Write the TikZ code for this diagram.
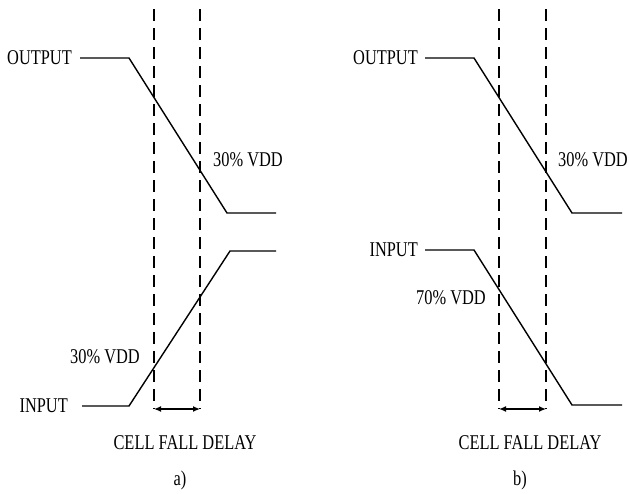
\documentclass[tikz,border=0pt]{standalone}
\usepackage{fontspec}
\setmainfont{Liberation Serif}[FakeStretch=0.78]
\usetikzlibrary{arrows.meta}
\begin{document}
\begin{tikzpicture}[x=1pt,y=-1pt,
  lbl/.style={inner sep=0pt,font=\fontsize{21}{25}\selectfont},
  sig/.style={line width=1.4pt},
  guide/.style={line width=1.1pt,dash pattern=on 12pt off 7pt},
  dim/.style={line width=1.3pt,{Latex[length=7pt,width=6pt]}-{Latex[length=7pt,width=6pt]}}]
\useasboundingbox (0,0) rectangle (629,493);
% ---------- panel a ----------
\coordinate (a1t) at (154,9);   \coordinate (a1b) at (154,409);
\coordinate (a2t) at (200,9);   \coordinate (a2b) at (200,409);
\draw[guide] (a1t) -- (a1b);
\draw[guide] (a2t) -- (a2b);
\node[lbl,anchor=east] (aout) at (72,58) {OUTPUT};
\coordinate (ao1) at (80,58); \coordinate (ao2) at (129,58);
\coordinate (ao3) at (227,213); \coordinate (ao4) at (276,213);
\draw[sig] (ao1) -- (ao2) -- (ao3) -- (ao4);
\node[lbl,anchor=east] (ain) at (68,406) {INPUT};
\coordinate (ai1) at (82,406); \coordinate (ai2) at (129,406);
\coordinate (ai3) at (230,251); \coordinate (ai4) at (276,251);
\draw[sig] (ai1) -- (ai2) -- (ai3) -- (ai4);
\node[lbl,anchor=west] (av1) at (213,160) {30\% VDD};
\node[lbl,anchor=east] (av2) at (140,357) {30\% VDD};
\draw[dim] (a1b) -- (a2b);
\node[lbl] (acap) at (185,443) {CELL FALL DELAY};
\node[lbl] (alab) at (180,480) {a)};
% ---------- panel b ----------
\coordinate (b1t) at (499,9);   \coordinate (b1b) at (499,409);
\coordinate (b2t) at (546,9);   \coordinate (b2b) at (546,409);
\draw[guide] (b1t) -- (b1b);
\draw[guide] (b2t) -- (b2b);
\node[lbl,anchor=east] (bout) at (418,58) {OUTPUT};
\coordinate (bo1) at (425,58); \coordinate (bo2) at (474,58);
\coordinate (bo3) at (572,213); \coordinate (bo4) at (622,213);
\draw[sig] (bo1) -- (bo2) -- (bo3) -- (bo4);
\node[lbl,anchor=east] (bin) at (418,250) {INPUT};
\coordinate (bi1) at (425,250); \coordinate (bi2) at (474,250);
\coordinate (bi3) at (572,405); \coordinate (bi4) at (622,405);
\draw[sig] (bi1) -- (bi2) -- (bi3) -- (bi4);
\node[lbl,anchor=west] (bv1) at (558,160) {30\% VDD};
\node[lbl,anchor=east] (bv2) at (486,298) {70\% VDD};
\draw[dim] (b1b) -- (b2b);
\node[lbl] (bcap) at (530,443) {CELL FALL DELAY};
\node[lbl] (blab) at (520,480) {b)};
\end{tikzpicture}
\end{document}
